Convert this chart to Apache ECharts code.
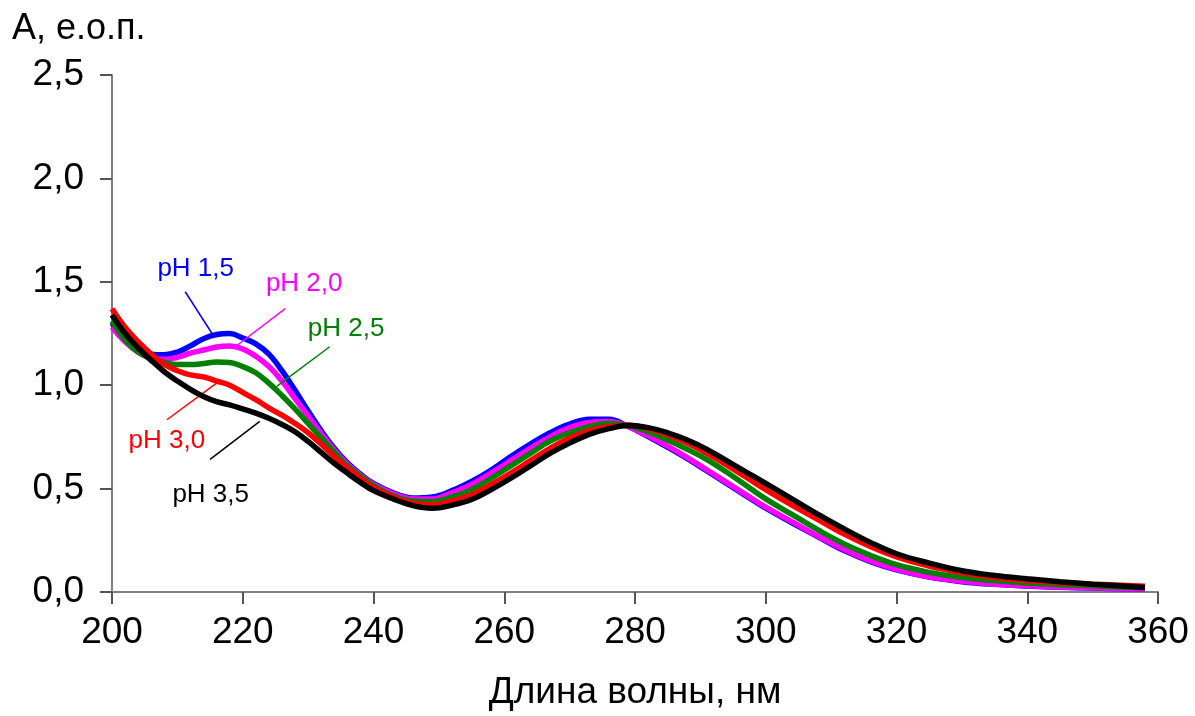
<!DOCTYPE html>
<html>
<head>
<meta charset="utf-8">
<script src="https://cdn.jsdelivr.net/npm/echarts@6/dist/echarts.min.js"></script>
<style>
html,body{margin:0;padding:0;background:#fff;}
#c{width:1195px;height:716px;}
</style>
</head>
<body>
<div id="c"></div>
<script>
// Wavelengths, nm
var wavelengths = [200,202,204,206,208,210,212,214,216,218,220,222,224,226,228,230,232,234,236,238,240,
  243,246,249,252,255,258,261,264,267,270,273,276,279,282,285,288,291,294,297,300,
  304,308,312,316,320,325,330,335,340,345,350,358];

var pH15 = [1.30,1.22,1.17,1.15,1.147,1.16,1.19,1.225,1.245,1.25,1.228,1.20,1.15,1.07,0.975,0.875,0.78,0.695,0.625,0.57,0.525,
  0.48,0.455,0.46,0.49,0.535,0.59,0.655,0.715,0.77,0.812,0.835,0.835,0.80,0.752,0.70,0.645,0.585,0.525,0.465,0.405,
  0.335,0.267,0.20,0.147,0.107,0.072,0.05,0.037,0.029,0.023,0.019,0.014];
var pH20 = [1.28,1.21,1.16,1.13,1.125,1.135,1.155,1.17,1.185,1.19,1.175,1.14,1.09,1.02,0.935,0.85,0.765,0.685,0.618,0.565,0.52,
  0.475,0.45,0.45,0.48,0.52,0.575,0.635,0.695,0.75,0.795,0.82,0.825,0.80,0.755,0.705,0.65,0.59,0.53,0.47,0.41,
  0.34,0.27,0.205,0.15,0.11,0.073,0.052,0.038,0.03,0.024,0.02,0.015];
var pH25 = [1.31,1.22,1.16,1.13,1.11,1.10,1.10,1.105,1.112,1.11,1.09,1.06,1.01,0.95,0.885,0.815,0.745,0.675,0.61,0.56,0.515,
  0.465,0.44,0.437,0.46,0.495,0.55,0.61,0.67,0.73,0.77,0.80,0.815,0.805,0.775,0.735,0.69,0.64,0.58,0.515,0.45,
  0.375,0.30,0.232,0.177,0.132,0.095,0.07,0.055,0.043,0.035,0.03,0.02];
var pH30 = [1.37,1.28,1.21,1.15,1.10,1.07,1.05,1.04,1.02,1.00,0.965,0.93,0.89,0.855,0.815,0.77,0.715,0.655,0.60,0.55,0.505,
  0.46,0.43,0.422,0.44,0.47,0.52,0.575,0.635,0.695,0.745,0.78,0.80,0.808,0.79,0.76,0.72,0.67,0.615,0.555,0.495,
  0.42,0.35,0.28,0.22,0.17,0.125,0.093,0.07,0.055,0.045,0.038,0.028];
var pH35 = [1.34,1.25,1.18,1.12,1.065,1.02,0.98,0.945,0.92,0.905,0.885,0.865,0.84,0.81,0.775,0.728,0.675,0.622,0.575,0.53,0.49,
  0.45,0.418,0.405,0.42,0.447,0.495,0.55,0.61,0.67,0.72,0.762,0.79,0.805,0.795,0.77,0.735,0.69,0.635,0.58,0.525,
  0.45,0.375,0.305,0.24,0.185,0.14,0.103,0.08,0.064,0.05,0.038,0.022];

var seriesNames = ['pH 1,5','pH 2,0','pH 2,5','pH 3,0','pH 3,5'];
var seriesColors = ['#0000ff','#ff00ff','#008000','#ff0000','#000000'];
// label anchor (nm, A) for each series annotation
var labelPos = [[212.8,1.562],[229.4,1.49],[235.8,1.274],[208.4,0.731],[215.1,0.471]];
// leader lines: [start(nm,A), end(nm,A)]
var leaderLines = [
  [[211.2,1.452],[215.3,1.25]],
  [[226.5,1.37],[219.1,1.192]],
  [[233.3,1.186],[225.2,0.994]],
  [[208.4,0.833],[216.0,1.01]],
  [[215.0,0.641],[222.6,0.825]]
];
var xTicks = {min:200, max:360, step:20};
var yTicks = {min:0, max:2.5, step:0.5};

var allData = [pH15,pH20,pH25,pH30,pH35];
var FONT = '"Liberation Sans", Arial, sans-serif';

function pairs(arr){ return wavelengths.map(function(w,i){ return [w, arr[i]]; }); }

var series = allData.map(function(arr, k){
  return {
    name: seriesNames[k],
    type: 'line',
    data: pairs(arr),
    smooth: 0.4,
    showSymbol: false,
    symbol: 'none',
    lineStyle: {color: seriesColors[k], width: 5.5},
    itemStyle: {color: seriesColors[k]},
    z: 2 + k,
    silent: true,
    animation: false,
    markLine: {
      silent: true,
      symbol: ['none','none'],
      animation: false,
      label: {show: false},
      lineStyle: {color: seriesColors[k], width: 1.5, type: 'solid'},
      data: [[{coord: leaderLines[k][0]}, {coord: leaderLines[k][1]}]]
    },
    markPoint: {
      silent: true,
      animation: false,
      symbol: 'circle',
      symbolSize: 1,
      itemStyle: {color: 'rgba(0,0,0,0)'},
      label: {show: true, position: 'inside', formatter: seriesNames[k],
        color: seriesColors[k], fontSize: 26, fontFamily: FONT},
      data: [{coord: labelPos[k]}]
    }
  };
});

var chart = echarts.init(document.getElementById('c'), null, {renderer: 'canvas'});
chart.setOption({
  backgroundColor: '#ffffff',
  animation: false,
  title: {
    text: 'А, е.о.п.',
    left: 7, top: 6,
    textStyle: {fontSize: 36, fontWeight: 'normal', color: '#000', fontFamily: FONT}
  },
  grid: {left: 112, right: 37, top: 75, bottom: 119, containLabel: false},
  xAxis: {
    type: 'value',
    min: xTicks.min, max: xTicks.max, interval: xTicks.step,
    name: 'Длина волны, нм',
    nameLocation: 'middle',
    nameGap: 82,
    nameTextStyle: {fontSize: 37, color: '#000', fontFamily: FONT},
    axisLine: {show: true, onZero: false, lineStyle: {color: '#808080', width: 2}},
    axisTick: {show: true, inside: false, length: 12, lineStyle: {color: '#555', width: 2}},
    axisLabel: {fontSize: 37, color: '#000', margin: 22, fontFamily: FONT},
    splitLine: {show: false}
  },
  yAxis: {
    type: 'value',
    min: yTicks.min, max: yTicks.max, interval: yTicks.step,
    axisLine: {show: true, lineStyle: {color: '#808080', width: 2}},
    axisTick: {show: true, inside: false, length: 12, lineStyle: {color: '#555', width: 2}},
    axisLabel: {fontSize: 37, color: '#000', margin: 28, fontFamily: FONT,
      formatter: function(v){ return v.toFixed(1).replace('.', ','); }},
    splitLine: {show: false}
  },
  series: series
});
</script>
</body>
</html>
